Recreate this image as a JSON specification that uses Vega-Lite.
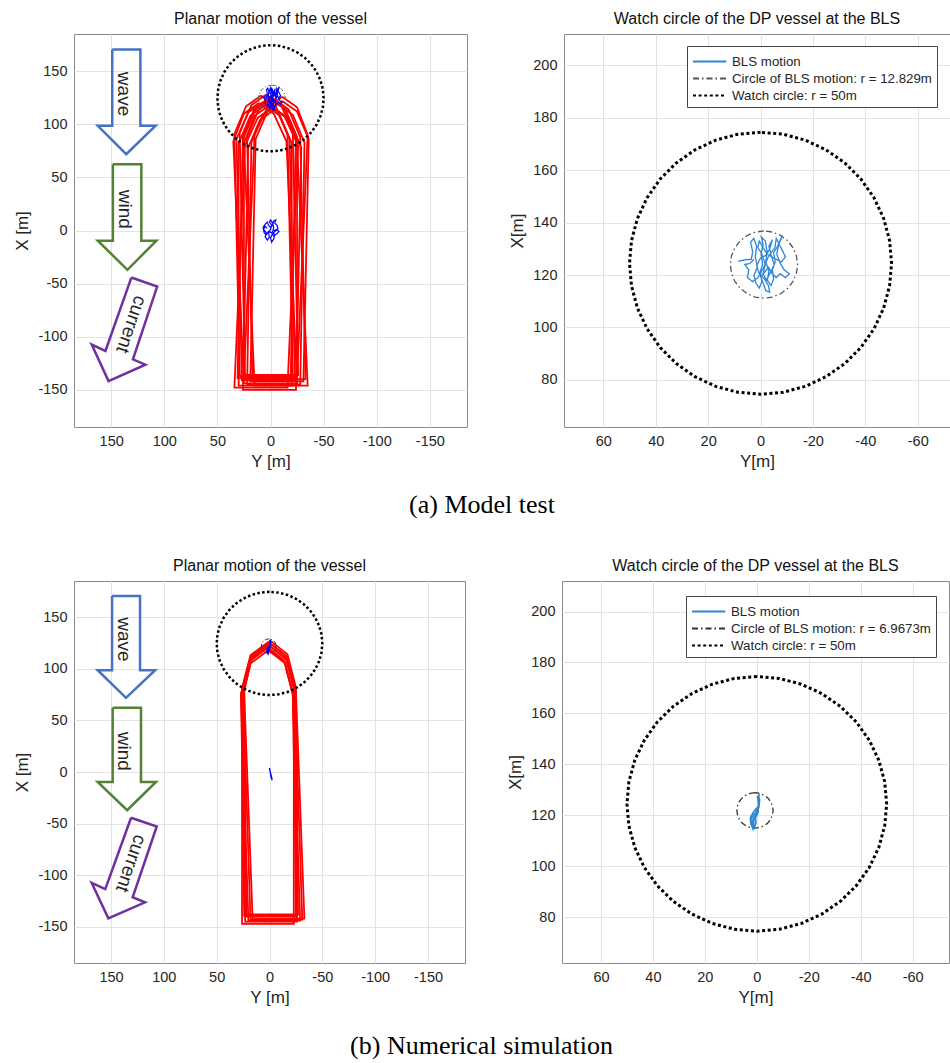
{
 "$schema": "https://vega.github.io/schema/vega-lite/v6.json",
 "background": "white",
 "padding": {"left": 13, "top": 10, "right": 0, "bottom": 0},
 "config": {
  "font": "Liberation Sans",
  "view": {"stroke": "#8a8a8a", "strokeWidth": 1},
  "axis": {"domain": false, "ticks": false, "gridColor": "#e3e3e3", "gridWidth": 1, "labelFontSize": 14.5, "labelColor": "#262626", "labelPadding": 7, "titleFontSize": 17, "titleFontWeight": "normal", "titleColor": "#262626", "titlePadding": 6, "labelFont": "Liberation Sans", "titleFont": "Liberation Sans"},
  "title": {"fontSize": 16, "fontWeight": "normal", "color": "#111111", "offset": 7, "font": "Liberation Sans"},
  "legend": {"symbolType": "M-1,0H2.5", "symbolSize": 361, "symbolStrokeWidth": 2, "labelFontSize": 13.3, "labelColor": "#262626", "labelFont": "Liberation Sans", "labelOffset": 19, "fillColor": "white", "strokeColor": "#444444", "padding": 5, "rowPadding": 0, "labelLimit": 400}
 },
 "datasets": {
  "vesA": [
   {"id":"A","Y":0,"X":124},{"id":"A","Y":14,"X":114},{"id":"A","Y":25,"X":88},{"id":"A","Y":25,"X":-140},{"id":"A","Y":-25,"X":-140},{"id":"A","Y":-25,"X":88},{"id":"A","Y":-14,"X":114},{"id":"A","Y":0,"X":124},
   {"id":"B","Y":11,"X":120},{"id":"B","Y":25,"X":110},{"id":"B","Y":35,"X":84},{"id":"B","Y":25,"X":-144},{"id":"B","Y":-25,"X":-144},{"id":"B","Y":-15,"X":84},{"id":"B","Y":-3,"X":110},{"id":"B","Y":11,"X":120},
   {"id":"C","Y":-11,"X":126},{"id":"C","Y":3,"X":116},{"id":"C","Y":15,"X":90},{"id":"C","Y":25,"X":-138},{"id":"C","Y":-25,"X":-138},{"id":"C","Y":-35,"X":90},{"id":"C","Y":-25,"X":116},{"id":"C","Y":-11,"X":126},
   {"id":"D","Y":-2,"X":116},{"id":"D","Y":12,"X":106},{"id":"D","Y":24,"X":80},{"id":"D","Y":34,"X":-148},{"id":"D","Y":-16,"X":-148},{"id":"D","Y":-26,"X":80},{"id":"D","Y":-16,"X":106},{"id":"D","Y":-2,"X":116},
   {"id":"E","Y":1,"X":118},{"id":"E","Y":15,"X":108},{"id":"E","Y":25,"X":82},{"id":"E","Y":15,"X":-146},{"id":"E","Y":-35,"X":-146},{"id":"E","Y":-25,"X":82},{"id":"E","Y":-13,"X":108},{"id":"E","Y":1,"X":118},
   {"id":"F","Y":9,"X":127},{"id":"F","Y":23,"X":117},{"id":"F","Y":34,"X":91},{"id":"F","Y":29,"X":-137},{"id":"F","Y":-21,"X":-137},{"id":"F","Y":-16,"X":91},{"id":"F","Y":-5,"X":117},{"id":"F","Y":9,"X":127},
   {"id":"G","Y":-11,"X":122},{"id":"G","Y":3,"X":112},{"id":"G","Y":14,"X":86},{"id":"G","Y":19,"X":-142},{"id":"G","Y":-31,"X":-142},{"id":"G","Y":-36,"X":86},{"id":"G","Y":-25,"X":112},{"id":"G","Y":-11,"X":122},
   {"id":"H","Y":4,"X":128},{"id":"H","Y":18,"X":118},{"id":"H","Y":29,"X":92},{"id":"H","Y":24,"X":-136},{"id":"H","Y":-26,"X":-136},{"id":"H","Y":-21,"X":92},{"id":"H","Y":-10,"X":118},{"id":"H","Y":4,"X":128},
   {"id":"I","Y":-4,"X":114},{"id":"I","Y":10,"X":104},{"id":"I","Y":21,"X":78},{"id":"I","Y":26,"X":-150},{"id":"I","Y":-24,"X":-150},{"id":"I","Y":-29,"X":78},{"id":"I","Y":-18,"X":104},{"id":"I","Y":-4,"X":114},
   {"id":"J","Y":5,"X":118},{"id":"J","Y":19,"X":108},{"id":"J","Y":30,"X":82},{"id":"J","Y":30,"X":-146},{"id":"J","Y":-20,"X":-146},{"id":"J","Y":-20,"X":82},{"id":"J","Y":-9,"X":108},{"id":"J","Y":5,"X":118},
   {"id":"K","Y":-3,"X":124},{"id":"K","Y":11,"X":114},{"id":"K","Y":22,"X":88},{"id":"K","Y":17,"X":-140},{"id":"K","Y":-33,"X":-140},{"id":"K","Y":-28,"X":88},{"id":"K","Y":-17,"X":114},{"id":"K","Y":-3,"X":124},
   {"id":"L","Y":1,"X":125},{"id":"L","Y":15,"X":115},{"id":"L","Y":26,"X":89},{"id":"L","Y":31,"X":-139},{"id":"L","Y":-19,"X":-139},{"id":"L","Y":-24,"X":89},{"id":"L","Y":-13,"X":115},{"id":"L","Y":1,"X":125},
   {"id":"M","Y":7,"X":121},{"id":"M","Y":21,"X":111},{"id":"M","Y":32,"X":86},{"id":"M","Y":27,"X":-141},{"id":"M","Y":-23,"X":-141},{"id":"M","Y":-18,"X":86},{"id":"M","Y":-7,"X":111},{"id":"M","Y":7,"X":121},
   {"id":"O","Y":-7,"X":119},{"id":"O","Y":7,"X":109},{"id":"O","Y":18,"X":83},{"id":"O","Y":22,"X":-145},{"id":"O","Y":-28,"X":-145},{"id":"O","Y":-32,"X":83},{"id":"O","Y":-21,"X":109},{"id":"O","Y":-7,"X":119}
  ],
  "vesB": [
   {"id":"N1","Y":0,"X":125},{"id":"N1","Y":17,"X":112},{"id":"N1","Y":25,"X":80},{"id":"N1","Y":23,"X":-140},{"id":"N1","Y":-26,"X":-140},{"id":"N1","Y":-24,"X":80},{"id":"N1","Y":-16,"X":112},{"id":"N1","Y":0,"X":125},
   {"id":"N2","Y":0,"X":122},{"id":"N2","Y":17,"X":109},{"id":"N2","Y":25,"X":77},{"id":"N2","Y":18,"X":-143},{"id":"N2","Y":-31,"X":-143},{"id":"N2","Y":-24,"X":77},{"id":"N2","Y":-16,"X":109},{"id":"N2","Y":0,"X":122},
   {"id":"N3","Y":2,"X":120},{"id":"N3","Y":19,"X":107},{"id":"N3","Y":27,"X":75},{"id":"N3","Y":23,"X":-145},{"id":"N3","Y":-26,"X":-145},{"id":"N3","Y":-22,"X":75},{"id":"N3","Y":-14,"X":107},{"id":"N3","Y":2,"X":120},
   {"id":"N4","Y":-1,"X":127},{"id":"N4","Y":16,"X":114},{"id":"N4","Y":24,"X":82},{"id":"N4","Y":22,"X":-138},{"id":"N4","Y":-27,"X":-138},{"id":"N4","Y":-25,"X":82},{"id":"N4","Y":-17,"X":114},{"id":"N4","Y":-1,"X":127},
   {"id":"N5","Y":1,"X":118},{"id":"N5","Y":18,"X":105},{"id":"N5","Y":26,"X":73},{"id":"N5","Y":26,"X":-147},{"id":"N5","Y":-23,"X":-147},{"id":"N5","Y":-23,"X":73},{"id":"N5","Y":-15,"X":105},{"id":"N5","Y":1,"X":118},
   {"id":"N6","Y":1,"X":123},{"id":"N6","Y":17,"X":110},{"id":"N6","Y":24,"X":78},{"id":"N6","Y":16,"X":-142},{"id":"N6","Y":-33,"X":-142},{"id":"N6","Y":-25,"X":78},{"id":"N6","Y":-16,"X":110},{"id":"N6","Y":1,"X":123},
   {"id":"N7","Y":1,"X":126},{"id":"N7","Y":18,"X":113},{"id":"N7","Y":26,"X":81},{"id":"N7","Y":24,"X":-139},{"id":"N7","Y":-25,"X":-139},{"id":"N7","Y":-23,"X":81},{"id":"N7","Y":-15,"X":113},{"id":"N7","Y":1,"X":126},
   {"id":"N8","Y":2,"X":121},{"id":"N8","Y":19,"X":108},{"id":"N8","Y":27,"X":76},{"id":"N8","Y":20,"X":-144},{"id":"N8","Y":-29,"X":-144},{"id":"N8","Y":-22,"X":76},{"id":"N8","Y":-14,"X":108},{"id":"N8","Y":2,"X":121}
  ],
  "circ50": [
   {"Y":0,"X":174.5},{"Y":8.68,"X":173.74},{"Y":17.1,"X":171.48},{"Y":25,"X":167.8},{"Y":32.14,"X":162.8},{"Y":38.3,"X":156.64},{"Y":43.3,"X":149.5},{"Y":46.98,"X":141.6},{"Y":49.24,"X":133.18},{"Y":50,"X":124.5},
   {"Y":49.24,"X":115.82},{"Y":46.98,"X":107.4},{"Y":43.3,"X":99.5},{"Y":38.3,"X":92.36},{"Y":32.14,"X":86.2},{"Y":25,"X":81.2},{"Y":17.1,"X":77.52},{"Y":8.68,"X":75.26},{"Y":0,"X":74.5},
   {"Y":-8.68,"X":75.26},{"Y":-17.1,"X":77.52},{"Y":-25,"X":81.2},{"Y":-32.14,"X":86.2},{"Y":-38.3,"X":92.36},{"Y":-43.3,"X":99.5},{"Y":-46.98,"X":107.4},{"Y":-49.24,"X":115.82},{"Y":-50,"X":124.5},
   {"Y":-49.24,"X":133.18},{"Y":-46.98,"X":141.6},{"Y":-43.3,"X":149.5},{"Y":-38.3,"X":156.64},{"Y":-32.14,"X":162.8},{"Y":-25,"X":167.8},{"Y":-17.1,"X":171.48},{"Y":-8.68,"X":173.74},{"Y":0,"X":174.5}
  ],
  "bcA": [
   {"Y":-1.3,"X":136.83},{"Y":2.02,"X":136.39},{"Y":5.11,"X":135.11},{"Y":7.77,"X":133.07},{"Y":9.81,"X":130.41},{"Y":11.09,"X":127.32},{"Y":11.53,"X":124},{"Y":11.09,"X":120.68},{"Y":9.81,"X":117.59},{"Y":7.77,"X":114.93},{"Y":5.11,"X":112.89},{"Y":2.02,"X":111.61},{"Y":-1.3,"X":111.17},
   {"Y":-4.62,"X":111.61},{"Y":-7.71,"X":112.89},{"Y":-10.37,"X":114.93},{"Y":-12.41,"X":117.59},{"Y":-13.69,"X":120.68},{"Y":-14.13,"X":124},{"Y":-13.69,"X":127.32},{"Y":-12.41,"X":130.41},{"Y":-10.37,"X":133.07},{"Y":-7.71,"X":135.11},{"Y":-4.62,"X":136.39},{"Y":-1.3,"X":136.83}
  ],
  "bcB": [
   {"Y":0.7,"X":128.87},{"Y":2.5,"X":128.63},{"Y":4.18,"X":127.93},{"Y":5.63,"X":126.83},{"Y":6.73,"X":125.38},{"Y":7.43,"X":123.7},{"Y":7.67,"X":121.9},{"Y":7.43,"X":120.1},{"Y":6.73,"X":118.42},{"Y":5.63,"X":116.97},{"Y":4.18,"X":115.87},{"Y":2.5,"X":115.17},{"Y":0.7,"X":114.93},
   {"Y":-1.1,"X":115.17},{"Y":-2.78,"X":115.87},{"Y":-4.23,"X":116.97},{"Y":-5.33,"X":118.42},{"Y":-6.03,"X":120.1},{"Y":-6.27,"X":121.9},{"Y":-6.03,"X":123.7},{"Y":-5.33,"X":125.38},{"Y":-4.23,"X":126.83},{"Y":-2.78,"X":127.93},{"Y":-1.1,"X":128.63},{"Y":0.7,"X":128.87}
  ],
  "scribA": [
   {"Y":8.5,"X":125.2},{"Y":6,"X":125.8},{"Y":3.5,"X":126},{"Y":3,"X":129},{"Y":3.8,"X":132.5},{"Y":2.6,"X":134},{"Y":1.5,"X":131},{"Y":2,"X":127},{"Y":1.2,"X":123},{"Y":2.5,"X":120},{"Y":1.8,"X":117},{"Y":0.5,"X":115},{"Y":-0.5,"X":117.5},{"Y":0.2,"X":121},{"Y":-0.8,"X":124},{"Y":-0.2,"X":128},{"Y":-1,"X":131.5},{"Y":-0.3,"X":134.5},{"Y":-1.8,"X":133},{"Y":-2.5,"X":129},{"Y":-2,"X":125},{"Y":-3.2,"X":121.5},{"Y":-2.6,"X":118},{"Y":-4,"X":116},{"Y":-5,"X":118.5},{"Y":-4.5,"X":122},{"Y":-5.6,"X":125},{"Y":-5,"X":128.5},{"Y":-6.5,"X":131},{"Y":-7.8,"X":134},{"Y":-8.5,"X":135},{"Y":-7,"X":132},{"Y":-6.2,"X":128},{"Y":-7.5,"X":124.5},{"Y":-9,"X":122},{"Y":-11,"X":120.5},{"Y":-9.5,"X":119},{"Y":-7.5,"X":120.5},{"Y":-6,"X":119},{"Y":-4.5,"X":120.5},{"Y":-3,"X":123},{"Y":-1.5,"X":121},{"Y":0,"X":119.5},{"Y":-1,"X":117},{"Y":-2,"X":114},{"Y":-3.5,"X":113.5},{"Y":-3,"X":116},{"Y":-1.5,"X":118.5},{"Y":0.5,"X":120.5},{"Y":1.5,"X":123.5},{"Y":0,"X":126.5},{"Y":-2,"X":127.5},{"Y":-3.5,"X":130},{"Y":-4.5,"X":133.5},{"Y":-3.2,"X":131},{"Y":-4.2,"X":127},{"Y":-5.2,"X":124},{"Y":-3.8,"X":121},{"Y":-2.2,"X":118},{"Y":-1,"X":120.5},{"Y":-1.8,"X":124},{"Y":-0.5,"X":128},{"Y":1,"X":130.5},{"Y":0.5,"X":133},{"Y":-2.5,"X":128},{"Y":-5,"X":126.5},{"Y":-8,"X":125},{"Y":-9.5,"X":127},
   {"Y":-8,"X":130},{"Y":-6,"X":134},{"Y":-5.5,"X":130.5},{"Y":-3,"X":127},{"Y":-1,"X":122.5},{"Y":1,"X":119},{"Y":3,"X":117.5},{"Y":5,"X":119},{"Y":4.5,"X":122},{"Y":6,"X":124},{"Y":4,"X":124.5},{"Y":2.5,"X":126}
  ],
  "scribC": [
   {"Y":3,"X":2},{"Y":5,"X":4},{"Y":6.5,"X":1},{"Y":4,"X":-2},{"Y":5,"X":-6},{"Y":3,"X":-9},{"Y":1,"X":-6},{"Y":2,"X":-2},{"Y":0,"X":1},{"Y":-1,"X":5},{"Y":1,"X":8},{"Y":0,"X":10},{"Y":-2,"X":7},{"Y":-3,"X":3},{"Y":-2,"X":-1},{"Y":-4,"X":-4},{"Y":-3,"X":-8},{"Y":-1,"X":-11},{"Y":0,"X":-7},{"Y":-2,"X":-3},{"Y":-5,"X":0},{"Y":-7,"X":2},{"Y":-6,"X":5},{"Y":-4,"X":7},{"Y":-5,"X":10},{"Y":-3,"X":9},{"Y":-2,"X":5},{"Y":0,"X":3},{"Y":2,"X":5},{"Y":3,"X":8},{"Y":5,"X":6},{"Y":7,"X":3},{"Y":6,"X":-2},{"Y":4,"X":-4},{"Y":2,"X":-1},{"Y":-1,"X":-2},{"Y":-3,"X":-5},{"Y":-6,"X":-3},{"Y":-8,"X":-1},{"Y":-6,"X":1},{"Y":-3,"X":0}
  ],
  "scribB": [
   {"Y":-1,"X":128.5},{"Y":-0.5,"X":126},{"Y":-0.8,"X":124},{"Y":-0.3,"X":122.5},{"Y":0.5,"X":121},{"Y":1.5,"X":120},{"Y":2.2,"X":118},{"Y":2,"X":116},{"Y":1.5,"X":114.6},{"Y":1.2,"X":116},{"Y":1,"X":119},{"Y":0.2,"X":121},{"Y":-0.8,"X":123},{"Y":-1.1,"X":126},{"Y":-0.6,"X":128},{"Y":-0.9,"X":125},{"Y":0,"X":121.5},{"Y":1,"X":119.5},{"Y":1.8,"X":117},{"Y":1,"X":115},{"Y":0.3,"X":117},{"Y":0.5,"X":119},{"Y":-0.5,"X":121},{"Y":-0.7,"X":124},{"Y":-0.2,"X":127.5},{"Y":-1,"X":126},{"Y":-0.5,"X":123.5},{"Y":1.5,"X":121},{"Y":2.5,"X":119},{"Y":2.3,"X":116.5},{"Y":0.8,"X":114.8}
  ],
  "lineB": [
   {"Y":0,"X":4},{"Y":-0.5,"X":1},{"Y":-1,"X":-2},{"Y":-1.5,"X":-5},{"Y":-2.5,"X":-8},{"Y":-2,"X":-5},{"Y":-1,"X":-1},{"Y":0,"X":3}
  ],
  "arrows": [
   {"a":"wave","Y":149,"X":170.5},{"a":"wave","Y":122.5,"X":170.5},{"a":"wave","Y":122.5,"X":98.6},{"a":"wave","Y":108.2,"X":98.6},{"a":"wave","Y":135.8,"X":71.8},{"a":"wave","Y":162.6,"X":98.6},{"a":"wave","Y":149,"X":98.6},{"a":"wave","Y":149,"X":170.5},
   {"a":"wind","Y":148.4,"X":62.3},{"a":"wind","Y":121.6,"X":62.3},{"a":"wind","Y":121.6,"X":-9.6},{"a":"wind","Y":107.4,"X":-9.6},{"a":"wind","Y":134.7,"X":-37},{"a":"wind","Y":162.6,"X":-9.6},{"a":"wind","Y":148.4,"X":-9.6},{"a":"wind","Y":148.4,"X":62.3},
   {"a":"current","Y":131,"X":-44.3},{"a":"current","Y":106.7,"X":-52.8},{"a":"current","Y":129.5,"X":-121.3},{"a":"current","Y":117.8,"X":-126.3},{"a":"current","Y":152.5,"X":-141.8},{"a":"current","Y":168.3,"X":-107.4},{"a":"current","Y":155.4,"X":-113.4},{"a":"current","Y":131,"X":-44.3}
  ],
  "labels90": [{"t":"wave","Y":137.5,"X":128.5},{"t":"wind","Y":137.4,"X":20}],
  "labelsCur": [{"t":"current","Y":131,"X":-88.5}]
 },
 "spacing": 39,
 "resolve": {"scale": {"color": "independent", "strokeDash": "independent"}, "legend": {"color": "independent", "strokeDash": "independent"}},
 "vconcat": [
  {
   "title": {"text": "(a) Model test", "orient": "bottom", "anchor": "middle", "font": "Liberation Serif", "fontSize": 26, "fontWeight": "normal", "color": "#000000", "offset": 22},
   "spacing": 40,
   "hconcat": [
    {
     "width": 393, "height": 393,
     "title": "Planar motion of the vessel",
     "encoding": {
      "x": {"field": "Y", "type": "quantitative", "scale": {"domain": [-185, 185], "reverse": true, "nice": false, "zero": false}, "axis": {"values": [-150, -100, -50, 0, 50, 100, 150], "title": "Y [m]", "labelExpr": "'' + datum.value"}},
      "y": {"field": "X", "type": "quantitative", "scale": {"domain": [-185, 185], "nice": false, "zero": false}, "axis": {"values": [-150, -100, -50, 0, 50, 100, 150], "title": "X [m]", "labelExpr": "'' + datum.value"}}
     },
     "layer": [
      {"data": {"name": "vesA"}, "mark": {"type": "line", "color": "#ff0000", "strokeWidth": 1.8}, "encoding": {"detail": {"field": "id"}, "order": {"value": null}}},
      {"data": {"name": "circ50"}, "mark": {"type": "line", "color": "#000000", "strokeWidth": 2.5, "strokeDash": [2.5, 2.4], "strokeCap": "butt"}, "encoding": {"order": {"value": null}}},
      {"data": {"name": "bcA"}, "mark": {"type": "line", "color": "#666666", "strokeWidth": 1, "strokeDash": [4, 2, 1, 2]}, "encoding": {"order": {"value": null}}},
      {"data": {"name": "scribA"}, "mark": {"type": "line", "color": "#0000ff", "strokeWidth": 1.2}, "encoding": {"order": {"value": null}}},
      {"data": {"name": "scribC"}, "mark": {"type": "line", "color": "#0000ff", "strokeWidth": 1.2}, "encoding": {"order": {"value": null}}},
      {"data": {"name": "arrows"}, "transform": [{"filter": "datum.a == 'wave'"}], "mark": {"type": "line", "color": "#4472c4", "strokeWidth": 2.5}, "encoding": {"order": {"value": null}}},
      {"data": {"name": "arrows"}, "transform": [{"filter": "datum.a == 'wind'"}], "mark": {"type": "line", "color": "#548235", "strokeWidth": 2.5}, "encoding": {"order": {"value": null}}},
      {"data": {"name": "arrows"}, "transform": [{"filter": "datum.a == 'current'"}], "mark": {"type": "line", "color": "#7030a0", "strokeWidth": 2.5}, "encoding": {"order": {"value": null}}},
      {"data": {"name": "labels90"}, "mark": {"type": "text", "angle": 90, "fontSize": 19, "color": "#262626", "align": "center", "baseline": "middle"}, "encoding": {"text": {"field": "t"}}},
      {"data": {"name": "labelsCur"}, "mark": {"type": "text", "angle": 109, "fontSize": 19, "color": "#262626", "align": "center", "baseline": "middle"}, "encoding": {"text": {"field": "t"}}}
     ]
    },
    {
     "width": 386, "height": 393,
     "title": "Watch circle of the DP vessel at the BLS",
     "encoding": {
      "x": {"field": "Y", "type": "quantitative", "scale": {"domain": [-72.3, 75], "reverse": true, "nice": false, "zero": false}, "axis": {"values": [-60, -40, -20, 0, 20, 40, 60], "title": "Y[m]", "labelExpr": "'' + datum.value"}},
      "y": {"field": "X", "type": "quantitative", "scale": {"domain": [62, 212], "nice": false, "zero": false}, "axis": {"values": [80, 100, 120, 140, 160, 180, 200], "title": "X[m]"}}
     },
     "layer": [
      {"data": {"name": "circ50"}, "mark": {"type": "line", "strokeWidth": 3, "strokeCap": "butt"},
       "encoding": {"order": {"value": null},
        "color": {"datum": "Watch circle: r = 50m", "type": "nominal", "scale": {"domain": ["BLS motion", "Circle of BLS motion: r = 12.829m", "Watch circle: r = 50m"], "range": ["#2f86d6", "#555555", "#000000"]}, "legend": {"title": null, "orient": "none", "legendX": 613, "legendY": 12}},
        "strokeDash": {"datum": "Watch circle: r = 50m", "type": "nominal", "scale": {"domain": ["BLS motion", "Circle of BLS motion: r = 12.829m", "Watch circle: r = 50m"], "range": [[1, 0], [6, 3, 1.5, 3], [3, 2.6]]}, "legend": {"title": null, "orient": "none", "legendX": 613, "legendY": 12}}}},
      {"data": {"name": "bcA"}, "mark": {"type": "line", "strokeWidth": 1.3},
       "encoding": {"order": {"value": null}, "color": {"datum": "Circle of BLS motion: r = 12.829m", "type": "nominal"}, "strokeDash": {"datum": "Circle of BLS motion: r = 12.829m", "type": "nominal"}}},
      {"data": {"name": "scribA"}, "mark": {"type": "line", "strokeWidth": 1.3},
       "encoding": {"order": {"value": null}, "color": {"datum": "BLS motion", "type": "nominal"}, "strokeDash": {"datum": "BLS motion", "type": "nominal"}}}
     ]
    }
   ]
  },
  {
   "title": {"text": "(b) Numerical simulation", "orient": "bottom", "anchor": "middle", "font": "Liberation Serif", "fontSize": 26, "fontWeight": "normal", "color": "#000000", "offset": 27},
   "spacing": 40,
   "hconcat": [
    {
     "width": 391, "height": 382,
     "title": "Planar motion of the vessel",
     "encoding": {
      "x": {"field": "Y", "type": "quantitative", "scale": {"domain": [-185, 185], "reverse": true, "nice": false, "zero": false}, "axis": {"values": [-150, -100, -50, 0, 50, 100, 150], "title": "Y [m]", "labelExpr": "'' + datum.value"}},
      "y": {"field": "X", "type": "quantitative", "scale": {"domain": [-185, 185], "nice": false, "zero": false}, "axis": {"values": [-150, -100, -50, 0, 50, 100, 150], "title": "X [m]", "labelExpr": "'' + datum.value"}}
     },
     "layer": [
      {"data": {"name": "vesB"}, "mark": {"type": "line", "color": "#ff0000", "strokeWidth": 1.8}, "encoding": {"detail": {"field": "id"}, "order": {"value": null}}},
      {"data": {"name": "circ50"}, "mark": {"type": "line", "color": "#000000", "strokeWidth": 2.5, "strokeDash": [2.5, 2.4], "strokeCap": "butt"}, "encoding": {"order": {"value": null}}},
      {"data": {"name": "bcB"}, "mark": {"type": "line", "color": "#333333", "strokeWidth": 1, "strokeDash": [4, 2, 1, 2]}, "encoding": {"order": {"value": null}}},
      {"data": {"name": "scribB"}, "mark": {"type": "line", "color": "#0000ff", "strokeWidth": 1.3}, "encoding": {"order": {"value": null}}},
      {"data": {"name": "lineB"}, "mark": {"type": "line", "color": "#0000ff", "strokeWidth": 1.3}, "encoding": {"order": {"value": null}}},
      {"data": {"name": "arrows"}, "transform": [{"filter": "datum.a == 'wave'"}], "mark": {"type": "line", "color": "#4472c4", "strokeWidth": 2.5}, "encoding": {"order": {"value": null}}},
      {"data": {"name": "arrows"}, "transform": [{"filter": "datum.a == 'wind'"}], "mark": {"type": "line", "color": "#548235", "strokeWidth": 2.5}, "encoding": {"order": {"value": null}}},
      {"data": {"name": "arrows"}, "transform": [{"filter": "datum.a == 'current'"}], "mark": {"type": "line", "color": "#7030a0", "strokeWidth": 2.5}, "encoding": {"order": {"value": null}}},
      {"data": {"name": "labels90"}, "mark": {"type": "text", "angle": 90, "fontSize": 19, "color": "#262626", "align": "center", "baseline": "middle"}, "encoding": {"text": {"field": "t"}}},
      {"data": {"name": "labelsCur"}, "mark": {"type": "text", "angle": 109, "fontSize": 19, "color": "#262626", "align": "center", "baseline": "middle"}, "encoding": {"text": {"field": "t"}}}
     ]
    },
    {
     "width": 387, "height": 382,
     "title": "Watch circle of the DP vessel at the BLS",
     "encoding": {
      "x": {"field": "Y", "type": "quantitative", "scale": {"domain": [-74, 75], "reverse": true, "nice": false, "zero": false}, "axis": {"values": [-60, -40, -20, 0, 20, 40, 60], "title": "Y[m]", "labelExpr": "'' + datum.value"}},
      "y": {"field": "X", "type": "quantitative", "scale": {"domain": [62, 212], "nice": false, "zero": false}, "axis": {"values": [80, 100, 120, 140, 160, 180, 200], "title": "X[m]"}}
     },
     "layer": [
      {"data": {"name": "circ50"}, "mark": {"type": "line", "strokeWidth": 3, "strokeCap": "butt"},
       "encoding": {"order": {"value": null},
        "color": {"datum": "Watch circle: r = 50m", "type": "nominal", "scale": {"domain": ["BLS motion", "Circle of BLS motion: r = 6.9673m", "Watch circle: r = 50m"], "range": ["#2f86d6", "#333333", "#000000"]}, "legend": {"title": null, "orient": "none", "legendX": 612, "legendY": 15}},
        "strokeDash": {"datum": "Watch circle: r = 50m", "type": "nominal", "scale": {"domain": ["BLS motion", "Circle of BLS motion: r = 6.9673m", "Watch circle: r = 50m"], "range": [[1, 0], [6, 3, 1.5, 3], [3, 2.6]]}, "legend": {"title": null, "orient": "none", "legendX": 612, "legendY": 15}}}},
      {"data": {"name": "bcB"}, "mark": {"type": "line", "strokeWidth": 1.3},
       "encoding": {"order": {"value": null}, "color": {"datum": "Circle of BLS motion: r = 6.9673m", "type": "nominal"}, "strokeDash": {"datum": "Circle of BLS motion: r = 6.9673m", "type": "nominal"}}},
      {"data": {"name": "scribB"}, "mark": {"type": "line", "strokeWidth": 1.5},
       "encoding": {"order": {"value": null}, "color": {"datum": "BLS motion", "type": "nominal"}, "strokeDash": {"datum": "BLS motion", "type": "nominal"}}}
     ]
    }
   ]
  }
 ]
}
